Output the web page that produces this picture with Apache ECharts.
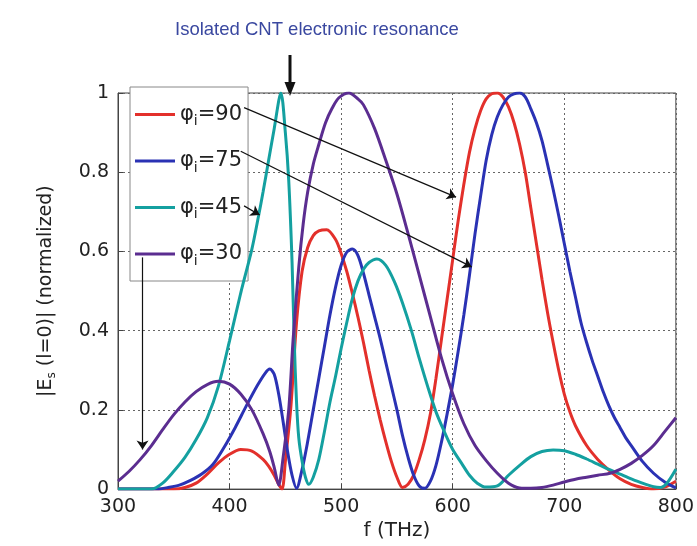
<!DOCTYPE html>
<html>
<head>
<meta charset="utf-8">
<script src="https://cdn.jsdelivr.net/npm/echarts@6/dist/echarts.min.js"></script>
<style>
  html, body { margin: 0; padding: 0; background: #fff; }
  #chart { width: 697px; height: 546px; }
</style>
</head>
<body>
<div id="chart"></div>
<script>
// frequency (THz) and normalized |Es|
const fRed = [300, 350, 360, 370, 380, 390, 400, 410, 420, 430, 435, 440, 444, 447, 450, 455, 460, 465, 470, 475, 480, 487, 495, 500, 505, 510, 515, 520, 525, 530, 535, 540, 545, 550, 555, 560, 565, 570, 575, 580, 585, 590, 595, 600, 605, 610, 615, 620, 625, 630, 635, 640, 645, 650, 655, 660, 665, 670, 675, 680, 685, 690, 695, 700, 705, 710, 720, 730, 740, 750, 760, 770, 780, 790, 800]
const vRed = [0, 0, 0.004, 0.015, 0.038, 0.066, 0.088, 0.1, 0.096, 0.075, 0.058, 0.035, 0.012, 0, 0.07, 0.21, 0.42, 0.55, 0.61, 0.64, 0.652, 0.655, 0.63, 0.595, 0.55, 0.495, 0.435, 0.37, 0.3, 0.235, 0.175, 0.12, 0.07, 0.03, 0.004, 0.012, 0.035, 0.075, 0.125, 0.19, 0.28, 0.38, 0.48, 0.58, 0.68, 0.77, 0.85, 0.91, 0.955, 0.985, 0.998, 1.0, 0.99, 0.965, 0.925, 0.87, 0.8, 0.71, 0.62, 0.53, 0.445, 0.37, 0.3, 0.24, 0.195, 0.16, 0.11, 0.075, 0.048, 0.026, 0.012, 0.004, 0, 0.005, 0.02]

const fBlue = [300, 335, 345, 355, 365, 375, 385, 395, 405, 415, 425, 432, 436, 440, 444, 448, 452, 456, 460, 465, 470, 475, 480, 485, 490, 495, 500, 505, 510, 515, 520, 525, 530, 535, 540, 545, 550, 555, 560, 565, 570, 575, 580, 585, 590, 595, 600, 605, 610, 615, 620, 625, 630, 635, 640, 645, 650, 655, 660, 665, 670, 675, 680, 685, 690, 695, 700, 705, 710, 715, 720, 725, 730, 735, 740, 745, 750, 755, 760, 770, 780, 790, 800]
const vBlue = [0, 0, 0.004, 0.01, 0.022, 0.038, 0.062, 0.105, 0.155, 0.21, 0.262, 0.293, 0.303, 0.29, 0.24, 0.17, 0.095, 0.035, 0.002, 0.05, 0.12, 0.2, 0.28, 0.36, 0.44, 0.51, 0.565, 0.598, 0.606, 0.59, 0.545, 0.49, 0.435, 0.38, 0.32, 0.26, 0.2, 0.135, 0.08, 0.035, 0.008, 0.002, 0.02, 0.06, 0.12, 0.19, 0.265, 0.35, 0.44, 0.54, 0.645, 0.74, 0.83, 0.895, 0.94, 0.97, 0.99, 0.998, 1.0, 0.99, 0.96, 0.925, 0.88, 0.82, 0.757, 0.69, 0.62, 0.55, 0.485, 0.42, 0.37, 0.325, 0.285, 0.245, 0.21, 0.18, 0.155, 0.13, 0.11, 0.07, 0.04, 0.018, 0.003]

const fTeal = [300, 330, 340, 350, 360, 370, 380, 390, 400, 410, 420, 426, 430, 435, 440, 446, 450, 453, 456, 458, 460, 462, 465, 468, 471, 475, 480, 485, 490, 495, 500, 505, 510, 515, 520, 525, 532, 540, 548, 555, 563, 570, 578, 585, 592, 600, 608, 615, 622, 630, 640, 650, 660, 670, 680, 690, 700, 710, 720, 730, 740, 750, 760, 770, 780, 786, 792, 800]
const vTeal = [0, 0, 0.015, 0.045, 0.08, 0.125, 0.18, 0.26, 0.375, 0.495, 0.606, 0.69, 0.75, 0.83, 0.91, 1.0, 0.9, 0.78, 0.573, 0.37, 0.22, 0.13, 0.07, 0.03, 0.012, 0.03, 0.075, 0.145, 0.22, 0.285, 0.355, 0.42, 0.48, 0.525, 0.555, 0.572, 0.581, 0.565, 0.522, 0.47, 0.4, 0.33, 0.255, 0.195, 0.148, 0.1, 0.065, 0.035, 0.015, 0.005, 0.008, 0.035, 0.06, 0.082, 0.095, 0.099, 0.097, 0.088, 0.076, 0.063, 0.05, 0.038, 0.026, 0.015, 0.006, 0.004, 0.015, 0.05]

const fPurple = [300, 310, 320, 330, 340, 350, 360, 370, 380, 390, 400, 410, 420, 430, 436, 440, 444, 448, 453, 457, 462, 466, 470, 475, 480, 486, 492, 498, 507, 515, 520, 530, 540, 550, 560, 570, 580, 590, 600, 610, 620, 630, 640, 650, 660, 670, 680, 690, 700, 710, 720, 730, 741, 750, 760, 770, 780, 790, 800]
const vPurple = [0.02, 0.045, 0.075, 0.11, 0.15, 0.188, 0.22, 0.246, 0.264, 0.272, 0.265, 0.24, 0.2, 0.14, 0.095, 0.055, 0.01, 0.08, 0.2, 0.38, 0.56, 0.67, 0.75, 0.82, 0.87, 0.925, 0.962, 0.988, 1.0, 0.985, 0.97, 0.91, 0.83, 0.745, 0.645, 0.54, 0.435, 0.33, 0.24, 0.165, 0.11, 0.072, 0.04, 0.015, 0.003, 0.002, 0.004, 0.01, 0.018, 0.025, 0.03, 0.035, 0.04, 0.05, 0.065, 0.085, 0.11, 0.145, 0.18]

const angles = ['90', '75', '45', '30']
const colors = ['#e3302b', '#2a32b4', '#14a0a0', '#5b2d90']
const xTicks = [300, 400, 500, 600, 700, 800]
const yTicks = [0, 0.2, 0.4, 0.6, 0.8, 1]

// legend entry -> curve pointers, [f, v] start and end
const pointers = [
  [[413, 0.963], [603, 0.737]],
  [[410, 0.853], [617, 0.561]],
  [[413, 0.715], [427, 0.692]],
  [[322, 0.585], [322, 0.1]]
]

const chart = echarts.init(document.getElementById('chart'))
const font = 'DejaVu Sans'

const pairs = (fs, vs) => fs.map((f, i) => [f, vs[i]])
const allData = [pairs(fRed, vRed), pairs(fBlue, vBlue), pairs(fTeal, vTeal), pairs(fPurple, vPurple)]

const series = allData.map((d, i) => ({
  name: angles[i],
  type: 'line',
  data: d,
  symbol: 'none',
  smooth: 0.3,
  lineStyle: { width: 3, color: colors[i] },
  itemStyle: { color: colors[i] },
  z: 3
}))

series[3].markLine = {
  silent: true,
  symbol: ['none', 'arrow'],
  symbolSize: 9,
  label: { show: false },
  lineStyle: { color: '#111', width: 1.2, type: 'solid' },
  data: pointers.map(p => [{ coord: p[0] }, { coord: p[1] }])
}

const option = {
  animation: false,
  backgroundColor: '#fff',
  color: colors,
  grid: {
    left: 118,
    right: 19,
    top: 93,
    bottom: 55,
    show: true,
    borderColor: '#444',
    borderWidth: 1
  },
  legend: {
    orient: 'vertical',
    left: 130,
    top: 87,
    z: 1,
    padding: [17, 6, 13, 5],
    itemGap: 22,
    itemWidth: 40,
    itemHeight: 3,
    icon: 'rect',
    backgroundColor: '#fff',
    borderColor: '#888',
    borderWidth: 1,
    formatter: name => '{p|φ}{s|i}{p|=' + name + '}',
    textStyle: {
      color: '#222',
      rich: {
        p: { fontSize: 21, fontFamily: font, lineHeight: 26 },
        s: { fontSize: 14, fontFamily: font, padding: [14, 0, 0, 0] }
      }
    }
  },
  xAxis: {
    type: 'value',
    min: 300,
    max: 800,
    interval: 100,
    name: 'f (THz)',
    nameLocation: 'middle',
    nameGap: 30,
    nameTextStyle: { fontSize: 20, fontFamily: font, color: '#222' },
    axisLine: { lineStyle: { color: '#444' } },
    axisTick: { inside: true, length: 5, lineStyle: { color: '#444' } },
    axisLabel: { fontSize: 19, fontFamily: font, color: '#222', margin: 8,
      formatter: v => xTicks.includes(v) ? String(v) : '' },
    splitLine: { show: true, lineStyle: { color: '#666', type: [2, 3], width: 1 } }
  },
  yAxis: {
    type: 'value',
    min: 0,
    max: 1,
    interval: 0.2,
    name: '|E{s|s} (l=0)| (normalized)',
    nameLocation: 'middle',
    nameGap: 60,
    nameTextStyle: {
      fontSize: 19,
      fontFamily: font,
      color: '#222',
      rich: { s: { fontSize: 12, fontFamily: font, color: '#222', padding: [12, 0, 0, 0] } }
    },
    axisLine: { show: true, lineStyle: { color: '#444' } },
    axisTick: { show: true, inside: true, length: 5, lineStyle: { color: '#444' } },
    axisLabel: { fontSize: 19, fontFamily: font, color: '#222', margin: 9,
      formatter: v => yTicks.includes(+v.toFixed(1)) ? String(+v.toFixed(1)) : '' },
    splitLine: { show: true, lineStyle: { color: '#666', type: [2, 3], width: 1 } }
  },
  graphic: [
    {
      type: 'text',
      left: 175,
      top: 20,
      style: {
        text: 'Isolated CNT electronic resonance',
        fill: '#3a48a0',
        font: '18.5px "Liberation Sans", Arial, sans-serif'
      }
    },
    {
      type: 'line',
      shape: { x1: 290, y1: 55, x2: 290, y2: 84 },
      style: { stroke: '#111', lineWidth: 3 }
    },
    {
      type: 'polygon',
      shape: { points: [[284.5, 82], [295.5, 82], [290, 96]] },
      style: { fill: '#111' }
    }
  ],
  series
}

chart.setOption(option)
window.onresize = () => {
  chart.resize()
}
</script>
</body>
</html>
